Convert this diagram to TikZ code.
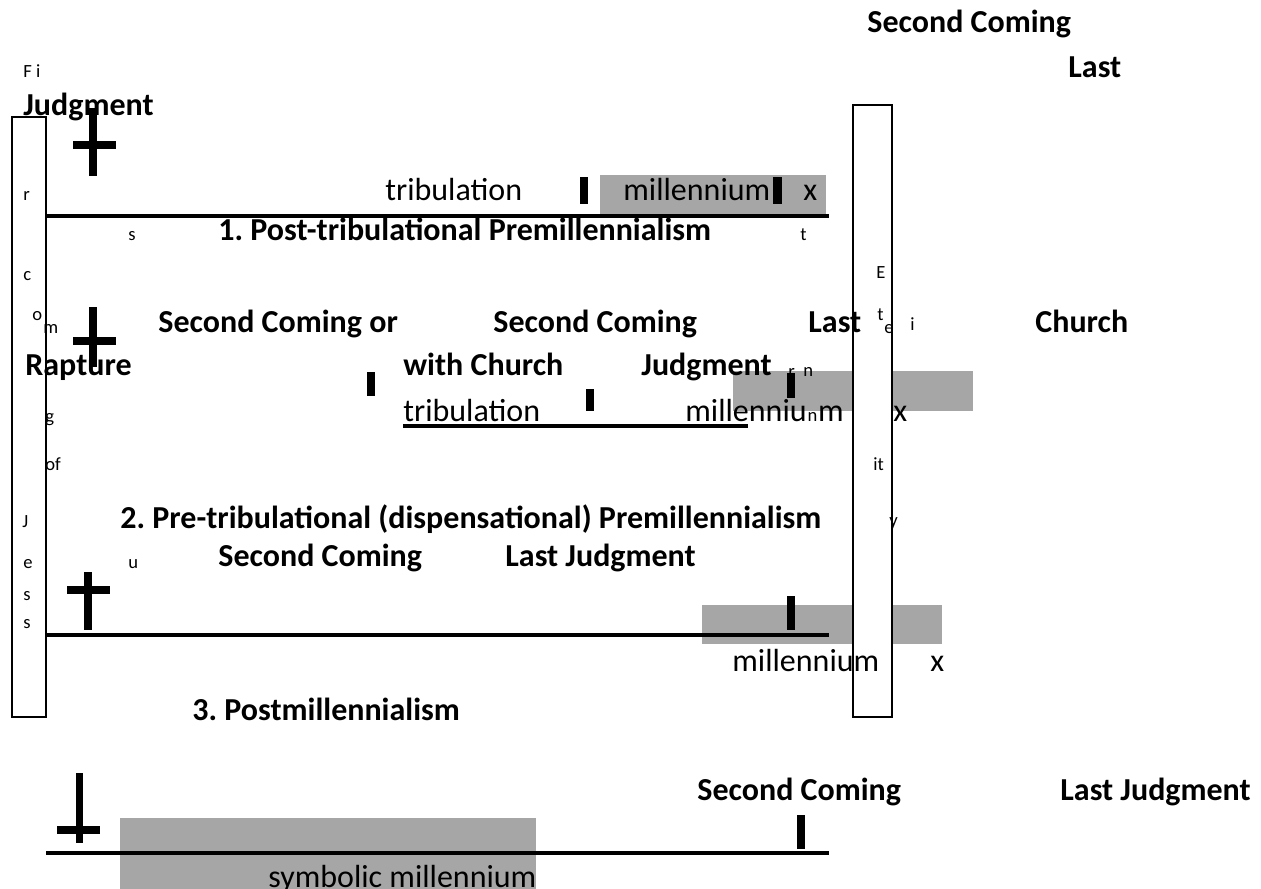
\documentclass[tikz,border=0pt]{standalone}
\usepackage{fontspec}
\setmainfont{Carlito}
\usetikzlibrary{positioning}
\frenchspacing

\begin{document}
\begin{tikzpicture}[x=0.5pt,y=-0.5pt]
  \useasboundingbox (0,0) rectangle (1261,888);
  \clip (0,0) rectangle (1261,888);
  \tikzset{
    heading/.style={anchor=base west,inner sep=0pt,font=\fontsize{16}{19}\selectfont\bfseries},
    word/.style={anchor=base west,inner sep=0pt,font=\fontsize{16}{19}\selectfont},
    letter/.style={anchor=base west,inner sep=0pt,font=\fontsize{9.3}{11}\selectfont},
    column/.style={draw=black,fill=white,line width=0.8pt},
    timeline/.style={line width=1.6pt},
    span/.style={fill=black!35},
    tick/.style={fill=black}
  }

  % grey spans
  \fill [span] (600,175) rectangle (826,214);
  \fill [span] (733,371) rectangle (973,411);
  \fill [span] (702,605) rectangle (942,644);
  \fill [span] (120,818) rectangle (536,900);

  % columns
  \draw [column] (12,117) rectangle (46,717);
  \draw [column] (853,105) rectangle (892,717);

  % timeline ends
  \coordinate (postA) at (46,216);   \coordinate (postB) at (829,216);
  \coordinate (preA)  at (403,426);  \coordinate (preB)  at (748,426);
  \coordinate (postmA) at (46,635);  \coordinate (postmB) at (829,635);
  \coordinate (amilA) at (46,853);   \coordinate (amilB) at (829,853);

  % Timelines
  \draw [timeline] (postA) -- (postB);
  \draw [timeline] (preA) -- (preB);
  \draw [timeline] (postmA) -- (postmB);
  \draw [timeline] (amilA) -- (amilB);

  % crosses
  \fill [tick] (89,108) rectangle (97,176);  \fill [tick] (73,141) rectangle (116,149);
  \fill [tick] (89,307) rectangle (97,367);  \fill [tick] (73,337) rectangle (116,345);
  \fill [tick] (84,572) rectangle (92,630);  \fill [tick] (67,586) rectangle (110,594);
  \fill [tick] (76,773) rectangle (83,843);  \fill [tick] (57,826) rectangle (100,834);

  % event marks
  \fill [tick] (580,177) rectangle (588,204);
  \fill [tick] (773,177) rectangle (782,204);
  \fill [tick] (367,372) rectangle (375,396);
  \fill [tick] (586,389) rectangle (594,411);
  \fill [tick] (787,373) rectangle (795,398);
  \fill [tick] (787,596) rectangle (795,630);
  \fill [tick] (797,815) rectangle (805,849);

  % Top labels
  \node [heading] (topsc) at (867,33)  {Second Coming};
  \node [heading] (toplast) at (1068,77) {Last};
  \node [letter]  (fi) at (23,77) {F i};
  \node [heading] (topjud) at (23,115) {Judgment};

  % 1. Post-tribulational
  \node [word] (trib1) at (385,200) {tribulation};
  \node [word] (mill1) at (623,200) {millennium};
  \node [word] (x1) at (803,200) {x};
  \node [heading] (post) at (218,240) {1. Post-tribulational Premillennialism};
  \node [letter] (ls1) at (128,240) {s};
  \node [letter] (rt1) at (800,240) {t};

  % First coming of Jesus (scattered)
  \node [letter] (fr) at (23,200) {r};
  \node [letter] (fc) at (23,280) {c};
  \node [letter] (fo) at (32,320) {o};
  \node [letter] (fm) at (43,333) {m};
  \node [letter] (fg) at (45,422) {g};
  \node [letter] (fof) at (45,470) {of};
  \node [letter] (fJ) at (22,527) {J};
  \node [letter] (fe) at (23,568) {e};
  \node [letter] (fs1) at (23,600) {s};
  \node [letter] (fs2) at (23,628) {s};
  \node [letter] (fu) at (128,568) {u};

  % Eternity (scattered)
  \node [letter] (eE) at (876,278) {E};
  \node [letter] (et) at (877,320) {t};
  \node [letter] (ee) at (884,333) {e};
  \node [letter] (ei) at (910,330) {i};
  \node [letter] (er) at (788,377) {r};
  \node [letter] (en) at (803,376) {n};
  \node [letter] (eit) at (873,470) {it};
  \node [letter] (ey) at (889,526) {y};

  % 2. Pre-tribulational
  \node [heading] (sc2a) at (158,332) {Second Coming or};
  \node [heading] (sc2b) at (493,332) {Second Coming};
  \node [heading] (last2) at (808,332) {Last};
  \node [heading] (church2) at (1035,332) {Church};
  \node [heading] (rapture) at (25,375) {Rapture};
  \node [heading] (with2) at (403,375) {with Church};
  \node [heading] (jud2) at (641,375) {Judgment};
  \node [word] (trib2) at (403,421) {tribulation};
  \node [word] (mill2) at (685,421) {millenniu};
  \node [letter] (mill2n) at (mill2.base east) {n};
  \node [word] (mill2m) at (mill2n.base east) {m};
  \node [word] (x2) at (893,421) {x};
  \node [heading] (pre) at (120,528) {2. Pre-tribulational (dispensational) Premillennialism};

  % 3. Postmillennialism
  \node [heading] (sc3) at (218,566) {Second Coming};
  \node [heading] (lj3) at (505,566) {Last Judgment};
  \node [word] (mill3) at (732,671) {millennium};
  \node [word] (x3) at (930,671) {x};
  \node [heading] (postm) at (192,720) {3. Postmillennialism};

  % Amillennialism
  \node [heading] (sc4) at (697,800) {Second Coming};
  \node [heading] (lj4) at (1060,800) {Last Judgment};
  \node [word] (mill4) at (268,887) {symbolic millennium};
\end{tikzpicture}
\end{document}
